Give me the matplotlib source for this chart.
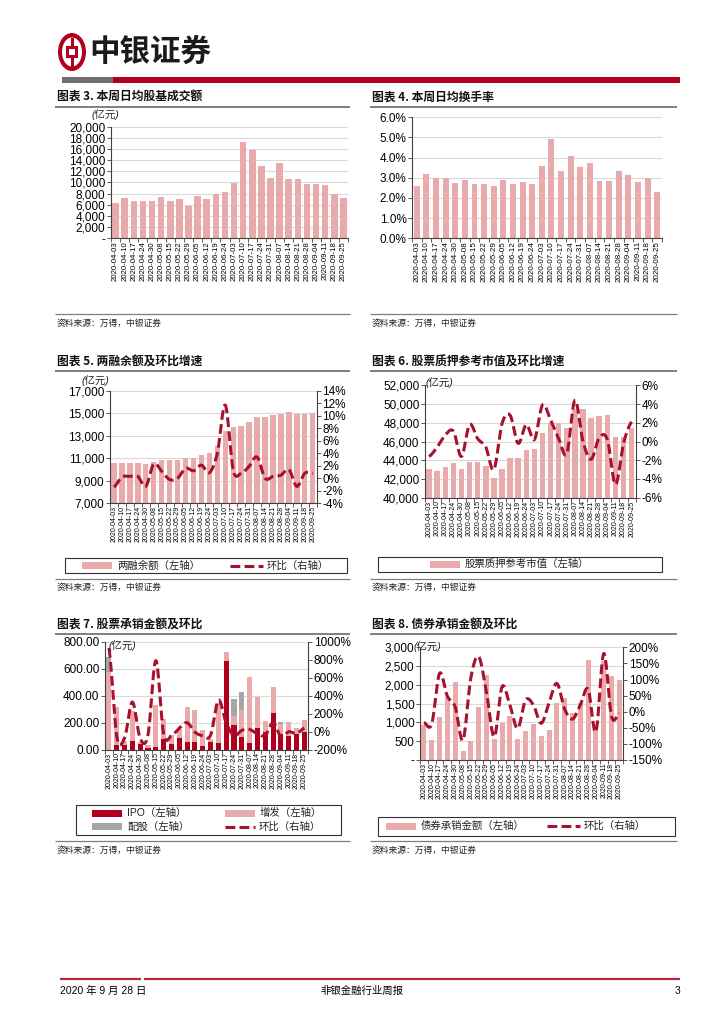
import numpy as np
import matplotlib
matplotlib.use('Agg')
import matplotlib.pyplot as plt
from matplotlib.patches import Ellipse, Rectangle
from matplotlib.lines import Line2D

plt.rcParams['font.family'] = ['Liberation Sans', 'Noto Sans CJK SC', 'DejaVu Sans']

# ---------------- data ----------------
dates = ['2020-04-03', '2020-04-10', '2020-04-17', '2020-04-24', '2020-04-30', '2020-05-08',
         '2020-05-15', '2020-05-22', '2020-05-29', '2020-06-05', '2020-06-12', '2020-06-19',
         '2020-06-24', '2020-07-03', '2020-07-10', '2020-07-17', '2020-07-24', '2020-07-31',
         '2020-08-07', '2020-08-14', '2020-08-21', '2020-08-28', '2020-09-04', '2020-09-11',
         '2020-09-18', '2020-09-25']

turnover = [6330, 7220, 6630, 6750, 6630, 7400, 6630, 7050, 5850, 7640, 7100, 7940, 8300,
            9970, 17250, 15880, 12900, 10810, 13490, 10630, 10630, 9730, 9730, 9550, 7940, 7220]

turnover_rate = [2.61, 3.17, 3.01, 2.99, 2.74, 2.89, 2.69, 2.69, 2.61, 2.88, 2.69, 2.79, 2.69,
                 3.57, 4.94, 3.32, 4.08, 3.54, 3.74, 2.84, 2.84, 3.32, 3.14, 2.79, 2.99, 2.30]

margin_bal = [10560, 10620, 10620, 10620, 10500, 10700, 10850, 10850, 10850, 11060, 11060, 11300,
              11500, 12100, 13430, 13820, 13900, 14200, 14700, 14700, 14850, 14910, 15090, 14910,
              14970, 15060]
margin_chg = [-1.4, 0.2, 0.3, 0.3, -1.3, 2.3, 1.1, -0.2, 0.0, 1.6, 1.2, 2.1, 0.9, 4.0, 11.7,
              1.3, 0.8, 1.9, 3.4, 0.0, 0.3, 0.5, 1.4, -1.3, 0.8, 0.8]

pledge_val = [43100, 42880, 43270, 43660, 43050, 43840, 43840, 43410, 42130, 43050, 44260, 44260,
              45080, 45150, 46860, 47990, 47990, 47390, 49500, 49450, 48530, 48700, 48800, 46500,
              46500, 47400]
pledge_chg = [-1.6, -0.6, 0.7, 1.1, -1.6, 1.8, 0.3, -0.6, -3.0, 1.9, 2.8, -0.2, 1.8, 0.2, 3.9,
              2.3, 0.3, -1.3, 4.4, 0.0, -1.9, 0.4, 0.2, -4.6, -0.2, 2.1]

ipo = [0, 35, 35, 64, 44, 15, 18, 81, 42, 86, 57, 57, 27, 57, 48, 657, 183, 96, 52, 158, 128,
       274, 119, 104, 119, 133]
seo = [575, 283, 30, 226, 10, 22, 313, 146, 69, 69, 262, 237, 116, 22, 300, 69, 69, 195, 489,
       235, 84, 193, 71, 98, 39, 87]
rights = [110, 0, 0, 0, 0, 0, 0, 0, 0, 0, 0, 0, 0, 0, 0, 0, 123, 134, 0, 0, 0, 0, 12, 0, 0, 0]
equity_chg = [930, -50, -70, 330, -75, -35, 790, -30, -45, 40, 100, -5, -45, -40, 350, 100, -45,
              15, 25, -25, -40, 100, -55, 0, -20, 40]

bond_amt = [924, 533, 1155, 1690, 2087, 240, 497, 1412, 2265, 560, 995, 1172, 560, 782, 959, 630,
            799, 1527, 1643, 1261, 1527, 2655, 940, 2630, 2238, 2131]
bond_chg = [-34, -38, 119, 48, 15, -88, 105, 171, 60, -78, 78, 20, -52, 36, 21, -36, 27, 88, 8,
            -23, 21, 70, -62, 181, -15, -5]

# ---------------- styles ----------------
PINK = '#E8AAAA'
DRED = '#A8102E'
IPOC = '#B0001E'
GRAY = '#A6A6A6'
AXC = '#404040'
GRID = '#D9D9D9'
DASH = (0, (3.2, 1.4))

W, H = 724, 1024
fig = plt.figure(figsize=(7.24, 10.24), dpi=100)
bg = fig.add_axes([0, 0, 1, 1])
bg.set_xlim(0, W)
bg.set_ylim(H, 0)
bg.axis('off')


def axpx(x0, y0, x1, y1):
    return fig.add_axes([x0 / W, 1 - y1 / H, (x1 - x0) / W, (y1 - y0) / H])


def ftext(x, y, s, **kw):
    return fig.text(x / W, 1 - y / H, s, **kw)


def smooth(y, n=16):
    y = np.asarray(y, float)
    P = np.concatenate([[y[0]], y, [y[-1]]])
    xs, ys = [], []
    t = np.linspace(0, 1, n, endpoint=False)
    for i in range(len(y) - 1):
        p0, p1, p2, p3 = P[i], P[i + 1], P[i + 2], P[i + 3]
        v = 0.5 * (2 * p1 + (-p0 + p2) * t + (2 * p0 - 5 * p1 + 4 * p2 - p3) * t ** 2
                   + (-p0 + 3 * p1 - 3 * p2 + p3) * t ** 3)
        xs.extend(i + t)
        ys.extend(v)
    xs.append(len(y) - 1)
    ys.append(y[-1])
    return np.array(xs), np.array(ys)


def cat_axis(ax, n, fs=5.0):
    ax.set_xlim(-0.5, n - 0.5)
    ax.set_xticks(range(n))
    ax.set_xticklabels(dates, rotation=90, fontsize=fs)
    ax.tick_params(axis='x', which='major', length=0, pad=2)
    ax.set_xticks(np.arange(-0.5, n, 1), minor=True)
    ax.tick_params(axis='x', which='minor', length=3, color=AXC, width=0.6)
    ax.spines['bottom'].set_color(AXC)
    ax.spines['bottom'].set_linewidth(0.8)


def left_y(ax, lo, hi, step, fmt, fs=8.5):
    ticks = np.arange(lo, hi + step / 2, step)
    ax.set_ylim(lo, hi)
    ax.set_yticks(ticks)
    ax.set_yticklabels([fmt(v) for v in ticks], fontsize=fs)
    ax.tick_params(axis='y', length=3, color=AXC, width=0.6, pad=1)
    ax.spines['left'].set_color(AXC)
    ax.spines['left'].set_linewidth(0.8)
    ax.spines['top'].set_visible(False)
    ax.spines['right'].set_visible(False)
    ax.yaxis.grid(True, color=GRID, lw=0.8)
    ax.set_axisbelow(True)


def right_y(ax, lo, hi, step, fs=8.5):
    ax2 = ax.twinx()
    ticks = np.arange(lo, hi + step / 2, step)
    ax2.set_ylim(lo, hi)
    ax2.set_yticks(ticks)
    ax2.set_yticklabels(['%d%%' % v for v in ticks], fontsize=fs)
    ax2.tick_params(axis='y', length=3, color=AXC, width=0.6, pad=1)
    for s in ['top', 'left', 'bottom']:
        ax2.spines[s].set_visible(False)
    ax2.spines['right'].set_color(AXC)
    ax2.spines['right'].set_linewidth(0.8)
    return ax2


def dash_fmt(v):
    return '-' if v == 0 else '{:,.0f}'.format(v)


def comma_fmt(v):
    return '{:,.0f}'.format(v)


def unit_label(x, y):
    ftext(x, y, '(亿元)', fontsize=7.5, va='center', ha='left', style='italic',
          family=['Liberation Sans', 'Noto Sans CJK SC'], color='#222222')


def panel_frame(x0, x1, title, ty, ly, sy):
    bg.text(x0 + 2, ty, title, fontsize=8.5, fontweight='bold', va='center', ha='left',
            family=['Noto Sans CJK SC'], color='#111111')
    bg.plot([x0, x1], [ly, ly], color='#7F7F7F', lw=1.4, solid_capstyle='butt')
    bg.plot([x0, x1], [sy, sy], color='#7F7F7F', lw=0.9, solid_capstyle='butt')
    bg.text(x0 + 2, sy + 9, '资料来源：万得，中银证券', fontsize=6.3, style='italic',
            va='center', ha='left', family=['Noto Sans CJK SC'], color='#222222')


def legend_box(x0, y0, x1, y1):
    bg.add_patch(Rectangle((x0, y0), x1 - x0, y1 - y0, fill=False, ec='#333333', lw=0.8))


def leg_rect(x, y, color, label, w=30, h=7):
    bg.add_patch(Rectangle((x, y - h / 2), w, h, fc=color, ec='none'))
    bg.text(x + w + 5, y, label, fontsize=7.5, va='center', ha='left',
            family=['Liberation Sans', 'Noto Sans CJK SC'], color='#222222')


def leg_line(x, y, label, w=33):
    bg.add_line(Line2D([x, x + w], [y, y], color=DRED, lw=2.2, linestyle=DASH))
    bg.text(x + w + 4, y, label, fontsize=7.5, va='center', ha='left',
            family=['Liberation Sans', 'Noto Sans CJK SC'], color='#222222')


n = len(dates)
xs = np.arange(n)

# ---------------- header ----------------
bg.add_patch(Ellipse((72, 52), 28, 38, fc=IPOC, ec='none'))
bg.add_patch(Ellipse((72, 52), 20, 29, fc='white', ec='none'))
bg.add_patch(Rectangle((72 - 1.5, 37.5), 3, 29, fc=IPOC, ec='none'))
bg.add_patch(Rectangle((72 - 6, 46), 12, 12, fc=IPOC, ec='none'))
bg.add_patch(Rectangle((72 - 3, 49), 6, 6, fc='white', ec='none'))
bg.text(89, 52, '中银证券', fontsize=22, va='center', ha='left', fontweight='bold',
        family=['Noto Sans CJK SC'], color='#1a1a1a')
bg.add_patch(Rectangle((62, 77), 51, 6, fc='#707070', ec='none'))
bg.add_patch(Rectangle((113, 77), 567, 6, fc='#B0001E', ec='none'))

# ---------------- footer ----------------
bg.plot([60, 141], [979, 979], color='#C0283A', lw=1.6, solid_capstyle='butt')
bg.plot([144, 680], [979, 979], color='#C0283A', lw=1.6, solid_capstyle='butt')
bg.text(60, 991, '2020 年 9 月 28 日', fontsize=7.5, va='center', ha='left',
        family=['Liberation Sans', 'Noto Sans CJK SC'])
bg.text(362, 991, '非银金融行业周报', fontsize=7.5, va='center', ha='center',
        family=['Noto Sans CJK SC'])
bg.text(680, 991, '3', fontsize=7.5, va='center', ha='right')

# ---------------- chart 3 ----------------
panel_frame(55, 350, '图表 3. 本周日均股基成交额', 97.5, 106.5, 314)
ax = axpx(111, 126.7, 348, 238.3)
ax.bar(xs, turnover, width=0.72, color=PINK)
cat_axis(ax, n, fs=5.6)
left_y(ax, 0, 20000, 2000, dash_fmt)
unit_label(92, 115)

# ---------------- chart 4 ----------------
panel_frame(370, 677, '图表 4. 本周日均换手率', 97.5, 106.5, 314)
ax = axpx(412, 117.3, 662, 238.3)
ax.bar(xs, turnover_rate, width=0.62, color=PINK)
cat_axis(ax, n, fs=5.8)
left_y(ax, 0, 6, 1, lambda v: '%.1f%%' % v)

# ---------------- chart 5 ----------------
panel_frame(55, 350, '图表 5. 两融余额及环比增速', 361.7, 370.7, 578.5)
ax = axpx(110, 390.7, 316.7, 503.3)
ax.bar(xs, margin_bal, width=0.68, color=PINK)
cat_axis(ax, n)
left_y(ax, 7000, 17000, 2000, comma_fmt)
ax2 = right_y(ax, -4, 14, 2)
sx, sy_ = smooth(margin_chg)
ax2.plot(sx, sy_, color=DRED, lw=2.2, linestyle=DASH)
ax2.set_xlim(-0.5, n - 0.5)
unit_label(82, 381)
legend_box(65, 558, 347, 573)
leg_rect(82, 565.5, PINK, '两融余额（左轴）')
leg_line(230, 565.5, '环比（右轴）')

# ---------------- chart 6 ----------------
panel_frame(370, 677, '图表 6. 股票质押参考市值及环比增速', 361.7, 370.7, 578.5)
ax = axpx(425, 385.3, 635.7, 497.7)
ax.bar(xs, pledge_val, width=0.68, color=PINK)
cat_axis(ax, n)
left_y(ax, 40000, 52000, 2000, comma_fmt)
ax2 = right_y(ax, -6, 6, 2)
sx, sy_ = smooth(pledge_chg)
ax2.plot(sx, sy_, color=DRED, lw=2.2, linestyle=DASH)
ax2.set_xlim(-0.5, n - 0.5)
unit_label(426, 383)
legend_box(378, 556.7, 662, 571.7)
leg_rect(430, 564.2, PINK, '股票质押参考市值（左轴）')

# ---------------- chart 7 ----------------
panel_frame(55, 350, '图表 7. 股票承销金额及环比', 625, 634.3, 841)
ax = axpx(105, 641.7, 308.3, 749.7)
ipo_a = np.array(ipo, float)
seo_a = np.array(seo, float)
ax.bar(xs, ipo, width=0.65, color=IPOC)
ax.bar(xs, seo, width=0.65, bottom=ipo_a, color=PINK)
ax.bar(xs, rights, width=0.65, bottom=ipo_a + seo_a, color=GRAY)
cat_axis(ax, n)
left_y(ax, 0, 800, 200, lambda v: '%.2f' % v)
ax2 = right_y(ax, -200, 1000, 200)
sx, sy_ = smooth(equity_chg)
ax2.plot(sx, sy_, color=DRED, lw=2.2, linestyle=DASH)
ax2.set_xlim(-0.5, n - 0.5)
unit_label(109, 646)
legend_box(76, 805, 341, 835)
leg_rect(92, 813.3, IPOC, 'IPO（左轴）')
leg_rect(225, 813.3, PINK, '增发（左轴）')
leg_rect(92, 826.7, GRAY, '配股（左轴）')
leg_line(225, 826.7, '环比（右轴）', w=30)

# ---------------- chart 8 ----------------
panel_frame(370, 677, '图表 8. 债券承销金额及环比', 625, 634.3, 841)
ax = axpx(420, 647.3, 623.3, 760)
ax.bar(xs, bond_amt, width=0.64, color=PINK)
cat_axis(ax, n)
left_y(ax, 0, 3000, 500, dash_fmt)
ax2 = right_y(ax, -150, 200, 50)
sx, sy_ = smooth(bond_chg)
ax2.plot(sx, sy_, color=DRED, lw=2.2, linestyle=DASH)
ax2.set_xlim(-0.5, n - 0.5)
unit_label(414, 647)
legend_box(378, 816.7, 675, 836)
leg_rect(386, 826, PINK, '债券承销金额（左轴）')
leg_line(547, 826, '环比（右轴）')

fig.savefig('out.png', dpi=100)
